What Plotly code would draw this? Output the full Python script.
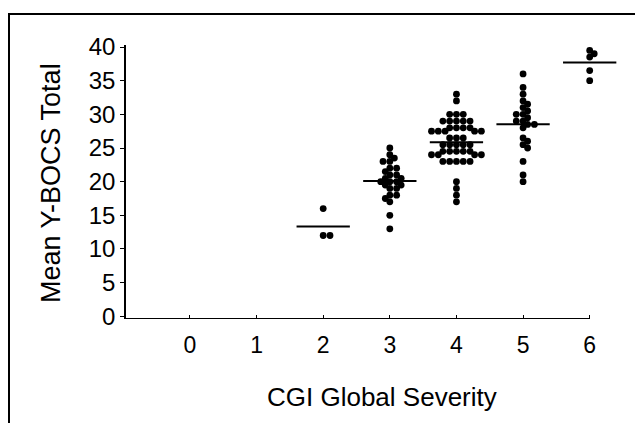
import numpy as np
import plotly.graph_objects as go

# ---- data ----
severity_ticks = [0, 1, 2, 3, 4, 5, 6]
severity_groups = [2, 3, 4, 5, 6]

scores_cgi2 = [16, 12, 12]
scores_cgi3 = [25, 24, 23.5, 23, 23, 22, 22, 21.5, 21, 21, 20.5, 20.5, 20, 20, 20,
               19.5, 19.5, 19, 19, 18, 18, 17.5, 17, 15, 13]
scores_cgi4 = [33, 32, 30, 30, 30, 29, 29, 29, 29, 29, 28, 28, 28, 28,
               27.5, 27.5, 27.5, 27.5, 27.5, 26.5, 26.5, 26.5,
               25.5, 25.5, 25.5, 25.5, 25.5, 24.5, 24.5, 24.5, 24.5, 24.5,
               24, 24, 24, 24, 23, 23, 23, 23, 23, 20, 19, 18, 17]
scores_cgi5 = [36, 34, 33, 32, 31.5, 31, 30.5, 30, 30, 29.5, 29, 29, 28.5, 28.5, 28,
               26.5, 26, 25.5, 25, 23, 21, 20]
scores_cgi6 = [39.5, 39, 38.5, 36.5, 35]

y_ticks = [0, 5, 10, 15, 20, 25, 30, 35, 40]

all_scores = [scores_cgi2, scores_cgi3, scores_cgi4, scores_cgi5, scores_cgi6]

# ---- layout geometry (page has an 8px body margin) ----
W, H = 635, 415
ML, MR, MT, MB = 118, 20, 37, 104
XR = [-0.96, 6.5]
YR = [-0.4, 40.3]
px_x = (W - ML - MR) / (XR[1] - XR[0])
px_y = (H - MT - MB) / (YR[1] - YR[0])
DOT = 6.8


def swarm(vals):
    vals = np.asarray(vals, dtype=float)
    order = np.argsort(-vals, kind="stable")
    placed = []
    offs = np.zeros(len(vals))
    for i in order:
        yp = vals[i] * px_y
        best = None
        for k in range(0, 60):
            cands = [0.0] if k == 0 else [k * DOT / 3, -k * DOT / 3]
            for c in cands:
                if all((c - a) ** 2 + (yp - b) ** 2 >= (DOT * 0.78) ** 2 for a, b in placed):
                    best = c
                    break
            if best is not None:
                break
        placed.append((best, yp))
        offs[i] = best
    return offs / px_x


fig = go.Figure()
for g, vals in zip(severity_groups, all_scores):
    offs = swarm(vals)
    fig.add_trace(go.Scatter(
        x=g + offs, y=vals, mode="markers",
        marker=dict(color="black", size=DOT, line=dict(width=0)),
        showlegend=False, hoverinfo="y"))
    m = float(np.mean(vals))
    fig.add_trace(go.Scatter(
        x=[g - 0.4, g + 0.4], y=[m, m], mode="lines",
        line=dict(color="black", width=2), showlegend=False, hoverinfo="skip"))

font_family = "Liberation Sans, Arial, Helvetica, sans-serif"

fig.update_layout(
    width=W, height=H,
    margin=dict(l=ML, r=MR, t=MT, b=MB),
    paper_bgcolor="white", plot_bgcolor="white",
    font=dict(family=font_family, color="black"),
    xaxis=dict(range=XR, tickvals=severity_ticks, ticktext=[str(t) for t in severity_ticks],
               showgrid=False, zeroline=False, showline=False,
               ticks="inside", ticklen=4, tickcolor="black", tickwidth=1,
               tickfont=dict(size=23, family=font_family, color="black"),
               ticklabelstandoff=10),
    yaxis=dict(range=YR, tickvals=y_ticks, ticktext=[str(t) for t in y_ticks],
               showgrid=False, zeroline=False, showline=True, linecolor="black", linewidth=1.5,
               ticks="outside", ticklen=4, tickcolor="black", tickwidth=1,
               tickfont=dict(size=24, family=font_family, color="black"),
               ticklabelstandoff=0),
)

# x axis line (ends at category 6)
fig.add_shape(type="line", xref="x", yref="y", x0=XR[0], x1=6, y0=YR[0], y1=YR[0],
              line=dict(color="black", width=2))


def px2paper_x(px):
    return (px - ML) / (W - ML - MR)


def px2paper_y(py):
    return (H - MB - py) / (H - MT - MB)


# frame lines (left and top border of the scanned figure)
fig.add_shape(type="line", xref="paper", yref="paper",
              x0=px2paper_x(1), x1=px2paper_x(1), y0=px2paper_y(6), y1=px2paper_y(415),
              line=dict(color="black", width=2))
fig.add_shape(type="line", xref="paper", yref="paper",
              x0=px2paper_x(0), x1=px2paper_x(635), y0=px2paper_y(6), y1=px2paper_y(6),
              line=dict(color="black", width=2))

# axis titles
fig.add_annotation(text="CGI Global Severity", xref="paper", yref="paper",
                   x=px2paper_x(374), y=px2paper_y(389), showarrow=False,
                   xanchor="center", yanchor="middle",
                   font=dict(size=26, family=font_family, color="black"))
fig.add_annotation(text="Mean Y-BOCS Total", xref="paper", yref="paper",
                   x=px2paper_x(43), y=px2paper_y(175), showarrow=False, textangle=-90,
                   xanchor="center", yanchor="middle",
                   font=dict(size=27, family=font_family, color="black"))

fig.write_html("out.html")
